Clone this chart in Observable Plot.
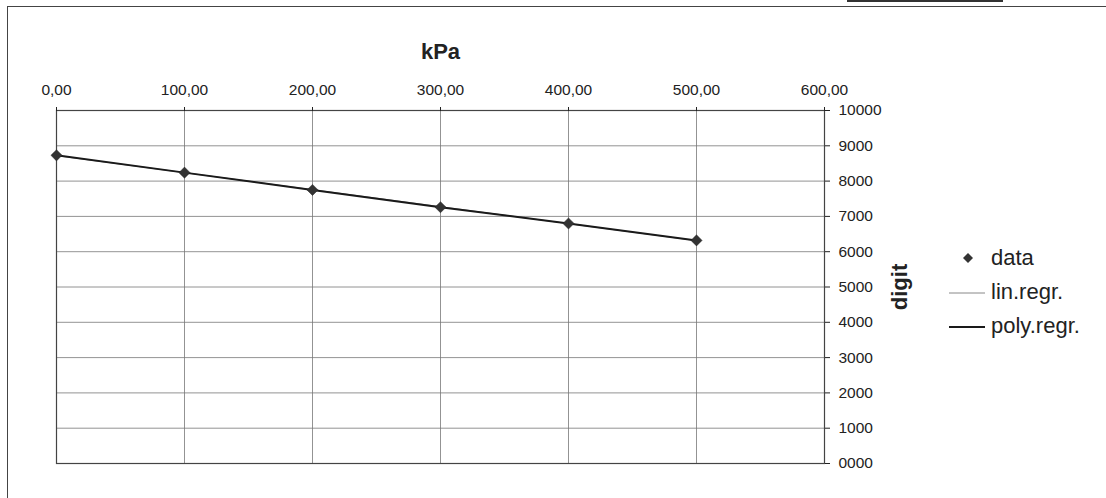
<!DOCTYPE html>
<html>
<head>
<meta charset="utf-8">
<script src="https://cdn.jsdelivr.net/npm/d3@7"></script>
<script src="https://cdn.jsdelivr.net/npm/@observablehq/plot@0.6"></script>
<style>
  html, body { margin: 0; padding: 0; background: #fff; }
  #wrap { position: relative; width: 1106px; height: 498px; overflow: hidden; font-family: "Liberation Sans", Arial, sans-serif; color: #222; }
  #border { position: absolute; left: 7px; top: 6px; width: 1200px; height: 600px; border-left: 1.5px solid #444; border-top: 1.5px solid #444; }
  #topmark { position: absolute; left: 847px; top: 0px; width: 156px; height: 2px; background: #333; }
  #chart { position: absolute; left: 0; top: 0; }
  g[aria-label="x-axis label"] text, g[aria-label="y-axis label"] text { font-size: 22px; font-weight: bold; }
  #legend { position: absolute; left: 947px; top: 241px; font-size: 22px; line-height: 34px; }
  #legend .row { display: flex; align-items: center; height: 34px; }
  #legend .sym { width: 44px; height: 34px; position: relative; }
  #legend svg { display: block; }
</style>
</head>
<body>
<div id="wrap">
  <div id="border"></div>
  <div id="topmark"></div>
  <div id="chart"></div>
  <div id="legend"></div>
</div>
<script>
// Data
const pressure = [0, 100, 200, 300, 400, 500];           // kPa
const digits   = [8730, 8240, 7750, 7260, 6800, 6320];   // digit
const xTicks   = [0, 100, 200, 300, 400, 500, 600];
const yTicks   = [0, 1000, 2000, 3000, 4000, 5000, 6000, 7000, 8000, 9000, 10000];
const seriesNames = ["data", "lin.regr.", "poly.regr."];

const rows = pressure.map((p, i) => ({kPa: p, digit: digits[i]}));

const chart = Plot.plot({
  width: 1106,
  height: 498,
  marginLeft: 56,
  marginRight: 282,
  marginTop: 110,
  marginBottom: 35,
  style: {fontFamily: "'Liberation Sans', Arial, sans-serif", fontSize: "15.5px", color: "#222", background: "transparent"},
  x: {domain: [0, 600]},
  y: {domain: [0, 10000]},
  marks: [
    Plot.gridX(xTicks, {stroke: "#777", strokeOpacity: 1, strokeWidth: 0.8}),
    Plot.gridY(yTicks, {stroke: "#777", strokeOpacity: 1, strokeWidth: 0.8}),
    Plot.frame({stroke: "#444", strokeWidth: 1.2}),
    Plot.axisX({
      anchor: "top", ticks: xTicks, tickSize: 4, tickPadding: 12, fontSize: 15.5,
      tickFormat: d => d.toFixed(2).replace(".", ","),
      label: "kPa", labelArrow: "none", labelAnchor: "center", labelOffset: 67
    }),
    Plot.axisY({
      anchor: "right", ticks: yTicks, tickSize: 5, tickPadding: 9, fontSize: 15.5,
      tickFormat: d3.format("04d"),
      label: "digit", labelArrow: "none", labelAnchor: "center", labelOffset: 82
    }),
    Plot.linearRegressionY(rows, {x: "kPa", y: "digit", stroke: "#888", strokeWidth: 1, ci: 0}),
    Plot.line(rows, {x: "kPa", y: "digit", stroke: "#1a1a1a", strokeWidth: 2}),
    Plot.dot(rows, {x: "kPa", y: "digit", symbol: "diamond2", r: 5, fill: "#333", stroke: "#222", strokeWidth: 0.5})
  ]
});
document.getElementById("chart").appendChild(chart);

// Legend (HTML)
const legend = document.getElementById("legend");
const symbols = [
  '<svg width="44" height="34"><path d="M21,12 L26,17 L21,22 L16,17 Z" fill="#333"/></svg>',
  '<svg width="44" height="34"><line x1="2" y1="18" x2="38" y2="18" stroke="#888" stroke-width="1"/></svg>',
  '<svg width="44" height="34"><line x1="2" y1="18" x2="38" y2="18" stroke="#1a1a1a" stroke-width="2"/></svg>'
];
seriesNames.forEach((name, i) => {
  const row = document.createElement("div");
  row.className = "row";
  row.innerHTML = '<div class="sym">' + symbols[i] + '</div><span>' + name + '</span>';
  legend.appendChild(row);
});
</script>
</body>
</html>
